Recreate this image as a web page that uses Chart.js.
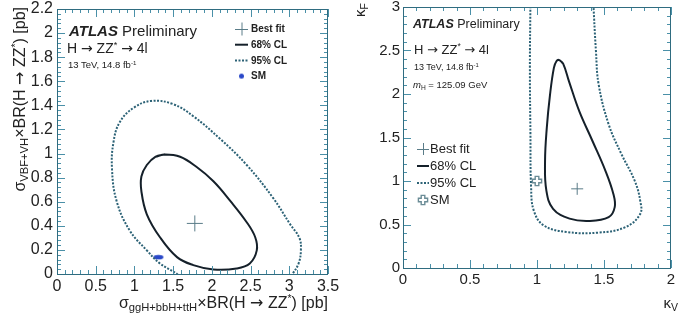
<!DOCTYPE html>
<html>
<head>
<meta charset="utf-8">
<script src="https://cdn.jsdelivr.net/npm/chart.js@4"></script>
<style>
  body { margin: 0; background: #fff; width: 678px; height: 322px; position: relative; overflow: hidden;
         font-family: "Liberation Sans", Arial, Helvetica, sans-serif; color: #222; }
  canvas { position: absolute; top: 0; }
  #cLeft { left: 0; }
  #cRight { left: 345px; }
  .t { position: absolute; white-space: nowrap; line-height: 1; }
  .rot { transform-origin: 0 0; transform: rotate(-90deg); text-align: right; line-height: 20px; height: 20px; }
  .arr { font-family: "DejaVu Sans", sans-serif; }
  sub { font-size: 70%; vertical-align: -0.3em; line-height: 0; }
  sup { font-size: 65%; vertical-align: 0.55em; line-height: 0; }
</style>
</head>
<body>
<canvas id="cLeft" width="345" height="322"></canvas>
<canvas id="cRight" width="333" height="322"></canvas>

<!-- texte panneau gauche -->
<div class="t" style="left:69px;top:23px;font-size:15px"><b><i>ATLAS</i></b> Preliminary</div>
<div class="t" style="left:67px;top:41px;font-size:14px">H <span class="arr">→</span> ZZ<sup>*</sup> <span class="arr">→</span> 4l</div>
<div class="t" style="left:68px;top:60px;font-size:9.5px">13 TeV, 14.8 fb<sup>-1</sup></div>
<div class="t rot" style="left:10px;top:277px;width:270px;font-size:16px">σ<sub>VBF+VH</sub>×BR(H <span class="arr">→</span> ZZ<sup>*</sup>) [pb]</div>
<div class="t" style="right:350px;top:295px;font-size:16px">σ<sub>ggH+bbH+ttH</sub>×BR(H <span class="arr">→</span> ZZ<sup>*</sup>) [pb]</div>

<!-- texte panneau droit -->
<div class="t" style="left:413px;top:18px;font-size:12.5px"><b><i>ATLAS</i></b> Preliminary</div>
<div class="t" style="left:414px;top:43px;font-size:13px">H <span class="arr">→</span> ZZ<sup>*</sup> <span class="arr">→</span> 4l</div>
<div class="t" style="left:414px;top:63px;font-size:9px">13 TeV, 14.8 fb<sup>-1</sup></div>
<div class="t" style="left:413px;top:80px;font-size:9.5px"><i>m</i><sub>H</sub> = 125.09 GeV</div>
<div class="t rot" style="left:350px;top:63px;width:60px;font-size:15px">κ<sub>F</sub></div>
<div class="t" style="right:0;top:295px;font-size:15px">κ<sub>V</sub></div>

<script>
// ---- données ----
// panneau gauche : sigma(ggH+bbH+ttH) x BR vs sigma(VBF+VH) x BR [pb]
const leftXTicks = [0, 0.5, 1, 1.5, 2, 2.5, 3, 3.5];
const leftYTicks = [0, 0.2, 0.4, 0.6, 0.8, 1, 1.2, 1.4, 1.6, 1.8, 2, 2.2];
const leftCL95X = [1.62, 1.55, 1.33, 1.16, 0.94, 0.77, 0.71, 0.73, 0.81, 0.99, 1.22, 1.50, 1.76, 2.11, 2.45, 2.79, 3.01, 3.13, 3.15, 3.12, 3.04, 2.98];
const leftCL95Y = [-0.05, 0.0, 0.087, 0.196, 0.36, 0.605, 0.877, 1.096, 1.26, 1.38, 1.437, 1.41, 1.31, 1.12, 0.905, 0.632, 0.414, 0.30, 0.20, 0.087, 0.0, -0.05];
const leftCL68X = [1.27, 1.395, 1.59, 1.80, 2.02, 2.24, 2.45, 2.56, 2.58, 2.49, 2.32, 2.02, 1.76, 1.55, 1.33, 1.16, 1.09, 1.09, 1.16, 1.27, 1.395];
const leftCL68Y = [0.973, 0.992, 0.973, 0.89, 0.77, 0.605, 0.43, 0.305, 0.196, 0.087, 0.046, 0.038, 0.074, 0.14, 0.305, 0.496, 0.687, 0.81, 0.905, 0.973, 0.992];
const leftBestX = [1.78];
const leftBestY = [0.42];
const leftSMX = [1.31];
const leftSMY = [0.14];

// panneau droit : kappa_V vs kappa_F
const rightXTicks = [0, 0.5, 1, 1.5, 2];
const rightYTicks = [0, 0.5, 1, 1.5, 2, 2.5, 3];
const rightCL95X = [0.951, 0.947, 0.951, 0.956, 0.976, 1.05, 1.22, 1.46, 1.66, 1.77, 1.77, 1.73, 1.63, 1.535, 1.46, 1.44, 1.42];
const rightCL95Y = [3.05, 2.30, 1.54, 0.93, 0.66, 0.49, 0.414, 0.407, 0.47, 0.62, 0.775, 1.0, 1.31, 1.65, 2.11, 2.49, 3.05];
const rightCL68X = [1.166, 1.195, 1.24, 1.316, 1.414, 1.51, 1.57, 1.58, 1.535, 1.39, 1.243, 1.12, 1.07, 1.06, 1.073, 1.097, 1.126, 1.146, 1.166, 1.195];
const rightCL68Y = [2.39, 2.35, 2.14, 1.80, 1.46, 1.12, 0.85, 0.70, 0.585, 0.54, 0.567, 0.68, 0.89, 1.23, 1.61, 1.99, 2.30, 2.38, 2.39, 2.35];
const rightBestX = [1.30];
const rightBestY = [0.91];
const rightSMX = [1];
const rightSMY = [1];

const FONT = '"Liberation Sans", Arial, Helvetica, sans-serif';
const FRAME = '#2f6c80';
const TICK = '#4a90a8';
const C95 = '#2c6276';
const C68 = '#15202a';
const CROSS = '#5a7c88';

Chart.defaults.font.family = FONT;
Chart.defaults.color = '#222';

const pts = (xs, ys) => xs.map((x, i) => ({ x: x, y: ys[i] }));
const fmt = v => String(+v.toFixed(2));

// marqueurs SM dessinés dans un petit canvas
function smDot(w, h) {
    const c = document.createElement('canvas');
    c.width = w + 2; c.height = h + 2;
    const g = c.getContext('2d');
    g.fillStyle = '#2a48c8';
    g.beginPath();
    g.ellipse(c.width / 2, c.height / 2, w / 2, h / 2, 0, 0, 2 * Math.PI);
    g.fill();
    return c;
}
function openCross(color) {
    const c = document.createElement('canvas');
    c.width = 12; c.height = 12;
    const g = c.getContext('2d');
    const m = 6, L = 4.6, w = 1.8;
    g.strokeStyle = color;
    g.lineWidth = 1.4;
    g.beginPath();
    [[m - w, m - L], [m + w, m - L], [m + w, m - w], [m + L, m - w], [m + L, m + w], [m + w, m + w],
     [m + w, m + L], [m - w, m + L], [m - w, m + w], [m - L, m + w], [m - L, m - w], [m - w, m - w]]
        .forEach((p, i) => i ? g.lineTo(p[0], p[1]) : g.moveTo(p[0], p[1]));
    g.closePath();
    g.stroke();
    return c;
}
const smLeftImg = smDot(10, 4.6);
const smLeftLegend = smDot(5, 5);
const smRightImg = openCross('#6b8c96');

// cadre + graduations façon ROOT (vers l'intérieur, sur les 4 côtés)
const frameTicks = {
    id: 'frameTicks',
    afterDraw(chart, args, o) {
        const { ctx, chartArea: a, scales: { x, y } } = chart;
        ctx.save();
        ctx.lineWidth = 1;
        ctx.strokeStyle = TICK;
        ctx.beginPath();
        const nx = Math.round((x.max - x.min) / o.xMinor);
        for (let i = 0; i <= nx; i++) {
            const v = x.min + i * o.xMinor;
            const p = Math.round(x.getPixelForValue(v)) + 0.5;
            const len = i % o.xDiv === 0 ? o.major : o.minor;
            ctx.moveTo(p, a.bottom); ctx.lineTo(p, a.bottom - len);
            ctx.moveTo(p, a.top); ctx.lineTo(p, a.top + len);
        }
        const ny = Math.round((y.max - y.min) / o.yMinor);
        for (let i = 0; i <= ny; i++) {
            const v = y.min + i * o.yMinor;
            const p = Math.round(y.getPixelForValue(v)) + 0.5;
            const len = i % o.yDiv === 0 ? o.major : o.minor;
            ctx.moveTo(a.left, p); ctx.lineTo(a.left + len, p);
            ctx.moveTo(a.right, p); ctx.lineTo(a.right - len, p);
        }
        ctx.stroke();
        ctx.strokeStyle = FRAME;
        ctx.strokeRect(Math.round(a.left) + 0.5, Math.round(a.top) + 0.5,
                       Math.round(a.right - a.left) - 1, Math.round(a.bottom - a.top));
        ctx.restore();
    }
};

// légende dessinée à la main (position libre dans le cadre)
const atlasLegend = {
    id: 'atlasLegend',
    afterDatasetsDraw(chart, args, o) {
        const ctx = chart.ctx;
        ctx.save();
        ctx.font = o.font;
        ctx.fillStyle = '#222';
        ctx.textBaseline = 'middle';
        o.items.forEach((it, i) => {
            const y = o.y0 + i * o.dy;
            const mx = o.markX;
            ctx.beginPath();
            ctx.setLineDash([]);
            if (it.kind === 'cross') {
                ctx.strokeStyle = CROSS; ctx.lineWidth = 1;
                ctx.moveTo(mx - o.half, y + 0.5); ctx.lineTo(mx + o.half, y + 0.5);
                ctx.moveTo(mx + 0.5, y - o.half); ctx.lineTo(mx + 0.5, y + o.half);
                ctx.stroke();
            } else if (it.kind === 'solid' || it.kind === 'dotted') {
                ctx.strokeStyle = it.kind === 'solid' ? C68 : C95;
                ctx.lineWidth = 2;
                if (it.kind === 'dotted') ctx.setLineDash([2, 1.5]);
                ctx.moveTo(mx - o.half, y); ctx.lineTo(mx + o.half, y);
                ctx.stroke();
            } else if (it.kind === 'image') {
                ctx.drawImage(it.img, mx - it.img.width / 2, y - it.img.height / 2);
            }
            ctx.fillText(it.label, o.textX, y + 0.5);
        });
        ctx.restore();
    }
};

function fixSize(prop, size) {
    return s => {
        s[prop] = size;
        s.paddingTop = s.paddingBottom = s.paddingLeft = s.paddingRight = 0;
    };
}

function axis(min, max, tickList, fitProp, fitSize, fontSize, pad) {
    return {
        type: 'linear', min: min, max: max,
        afterBuildTicks: s => { s.ticks = tickList.map(v => ({ value: v })); },
        afterFit: fixSize(fitProp, fitSize),
        grid: { display: false, drawTicks: false },
        border: { display: false },
        ticks: { autoSkip: false, maxRotation: 0, padding: pad, color: '#222',
                 font: { size: fontSize }, callback: v => fmt(v) }
    };
}

function contourSets(c95x, c95y, c68x, c68y, bx, by, bRadius, smx, smy, smImg) {
    return [
        { label: '95% CL', data: pts(c95x, c95y), showLine: true, pointRadius: 0, tension: 0.4,
          borderColor: C95, borderWidth: 2, borderDash: [2, 1.5] },
        { label: '68% CL', data: pts(c68x, c68y), showLine: true, pointRadius: 0, tension: 0.4,
          borderColor: C68, borderWidth: 2 },
        { label: 'Best fit', data: pts(bx, by), pointStyle: 'cross', pointRadius: bRadius,
          borderColor: CROSS, borderWidth: 1, backgroundColor: CROSS },
        { label: 'SM', data: pts(smx, smy), pointStyle: smImg, pointRadius: 5 }
    ];
}

new Chart(document.getElementById('cLeft'), {
    type: 'scatter',
    data: { datasets: contourSets(leftCL95X, leftCL95Y, leftCL68X, leftCL68Y,
                                  leftBestX, leftBestY, 8, leftSMX, leftSMY, smLeftImg) },
    options: {
        responsive: false, animation: false, events: [],
        layout: { padding: { left: 0, right: 17, top: 5, bottom: 0 } },
        scales: {
            x: axis(0, 3.5, leftXTicks, 'height', 48, 16, 3),
            y: axis(0, 2.2, leftYTicks, 'width', 57, 16, 4)
        },
        plugins: {
            legend: { display: false }, tooltip: { enabled: false },
            frameTicks: { xMinor: 0.1, xDiv: 5, yMinor: 0.04, yDiv: 5, major: 8, minor: 4 },
            atlasLegend: {
                font: 'bold 10px ' + FONT, markX: 241.5, half: 6.5, textX: 251, y0: 29, dy: 15.7,
                items: [
                    { kind: 'cross', label: 'Best fit' },
                    { kind: 'solid', label: '68% CL' },
                    { kind: 'dotted', label: '95% CL' },
                    { kind: 'image', label: 'SM', img: smLeftLegend }
                ]
            }
        }
    },
    plugins: [frameTicks, atlasLegend]
});

new Chart(document.getElementById('cRight'), {
    type: 'scatter',
    data: { datasets: contourSets(rightCL95X, rightCL95Y, rightCL68X, rightCL68Y,
                                  rightBestX, rightBestY, 6, rightSMX, rightSMY, smRightImg) },
    options: {
        responsive: false, animation: false, events: [],
        layout: { padding: { left: 0, right: 1, top: 5, bottom: 0 } },
        scales: {
            x: axis(0, 2, rightXTicks, 'height', 54, 15, 3),
            y: axis(0, 3, rightYTicks, 'width', 58, 15, 3)
        },
        plugins: {
            legend: { display: false }, tooltip: { enabled: false },
            frameTicks: { xMinor: 0.1, xDiv: 5, yMinor: 0.1, yDiv: 5, major: 8, minor: 4 },
            atlasLegend: {
                font: '13px ' + FONT, markX: 78, half: 6, textX: 85, y0: 149, dy: 17,
                items: [
                    { kind: 'cross', label: 'Best fit' },
                    { kind: 'solid', label: '68% CL' },
                    { kind: 'dotted', label: '95% CL' },
                    { kind: 'image', label: 'SM', img: smRightImg }
                ]
            }
        }
    },
    plugins: [frameTicks, atlasLegend]
});
</script>
</body>
</html>
